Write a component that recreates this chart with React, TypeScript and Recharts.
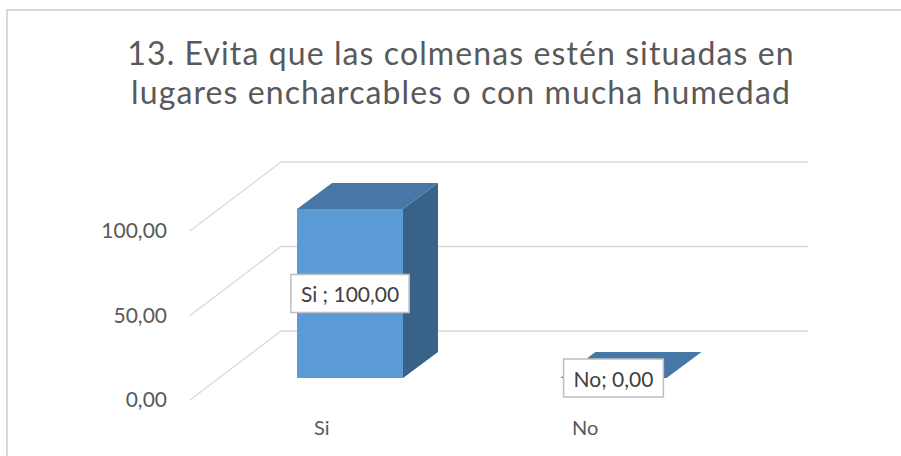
import { BarChart, Bar, XAxis, YAxis, CartesianGrid, LabelList } from "recharts";

const categories = ["Si", "No"];
const values = [100, 0];
const dataLabels = ["Si ; 100,00", "No; 0,00"];
const yTicks = [0, 50, 100];

const data = categories.map((c, i) => ({ name: c, value: values[i], label: dataLabels[i] }));

const FONT = "Lato, 'Open Sans', sans-serif";
// 3D offsets (px): where the bar sits in depth, its own depth, and the back wall
const BAR_OFF = { x: 28, y: -22 };
const BAR_DEPTH = { x: 35, y: -26 };
const WALL = { x: 91, y: -69 };

const fmt = (v: number) => v.toFixed(2).replace(".", ",");

function Bar3D(props: any) {
  const { x, y, width, height } = props;
  const fx = x + BAR_OFF.x;
  const fy = y + BAR_OFF.y;
  const dx = BAR_DEPTH.x;
  const dy = BAR_DEPTH.y;
  const top = `${fx},${fy} ${fx + dx},${fy + dy} ${fx + width + dx},${fy + dy} ${fx + width},${fy}`;
  if (!height || height < 1) {
    return <polygon points={top} fill="#4677a6" />;
  }
  const side = `${fx + width},${fy} ${fx + width + dx},${fy + dy} ${fx + width + dx},${fy + height + dy} ${fx + width},${fy + height}`;
  return (
    <g>
      <polygon points={side} fill="#386287" />
      <polygon points={top} fill="#4677a6" />
      <rect x={fx} y={fy} width={width} height={height} fill="#5b9bd5" />
    </g>
  );
}

let ctx: CanvasRenderingContext2D | null = null;
function textWidth(s: string, font: string) {
  if (!ctx) ctx = document.createElement("canvas").getContext("2d");
  if (!ctx) return s.length * 9;
  ctx.font = font;
  return ctx.measureText(s).width;
}

function BoxLabel(props: any) {
  const { x, y, width, height, value } = props;
  const cx = x + BAR_OFF.x + width / 2;
  const cy = y + BAR_OFF.y + height / 2;
  const w = textWidth(String(value), `21px Lato`) + 20;
  const h = 38;
  return (
    <g>
      <rect x={cx - w / 2} y={cy - h / 2} width={w} height={h} fill="#fff" stroke="#bfbfbf" strokeWidth={1.5} />
      <text x={cx} y={cy} textAnchor="middle" dominantBaseline="central" fontSize={21} fill="#404040" fontFamily={FONT}>
        {value}
      </text>
    </g>
  );
}

function WallLine(props: any) {
  const { x1, x2, y1 } = props;
  const d = `M${x1},${y1} L${x1 + WALL.x},${y1 + WALL.y} L${x2 + WALL.x},${y1 + WALL.y}`;
  return <path d={d} fill="none" stroke="#d9d9d9" strokeWidth={1.3} />;
}

export default function App() {
  return (
    <div style={{ position: "fixed", left: 0, top: 0, width: 901, height: 456, overflow: "hidden", background: "#fff", fontFamily: FONT }}>
      <style>{"html,body{margin:0;overflow:hidden}"}</style>
      <svg width={901} height={456} style={{ position: "absolute", left: 0, top: 0 }}>
        <path d="M7,456 L7,10 L901,10" fill="none" stroke="#d9d9d9" strokeWidth={2} />
      </svg>
      <div style={{ position: "absolute", left: 0, top: 33, width: 922, textAlign: "center", fontSize: 32, letterSpacing: 1.1, lineHeight: "39px", color: "#595959" }}>
        13. Evita que las colmenas estén situadas en
        <br />
        lugares encharcables o con mucha humedad
      </div>
      <div style={{ position: "absolute", left: 0, top: 0 }}>
        <BarChart width={901} height={456} data={data} margin={{ top: 231, right: 184, bottom: 26, left: 0 }} barSize={106}>
          <CartesianGrid vertical={false} horizontal={(p: any) => <WallLine key={p.key ?? p.index} {...p} />} />
          <XAxis dataKey="name" axisLine={false} tickLine={false} height={30} tickMargin={15}
            tick={{ fontSize: 20, fill: "#595959", fontFamily: FONT }} />
          <YAxis domain={[0, 100]} ticks={yTicks} interval={0} axisLine={false} tickLine={false} width={190}
            tickMargin={17} tickFormatter={fmt} tick={{ fontSize: 21, fill: "#595959", fontFamily: FONT }} />
          <Bar dataKey="value" shape={<Bar3D />} isAnimationActive={false}>
            <LabelList dataKey="label" content={<BoxLabel />} />
          </Bar>
        </BarChart>
      </div>
    </div>
  );
}
